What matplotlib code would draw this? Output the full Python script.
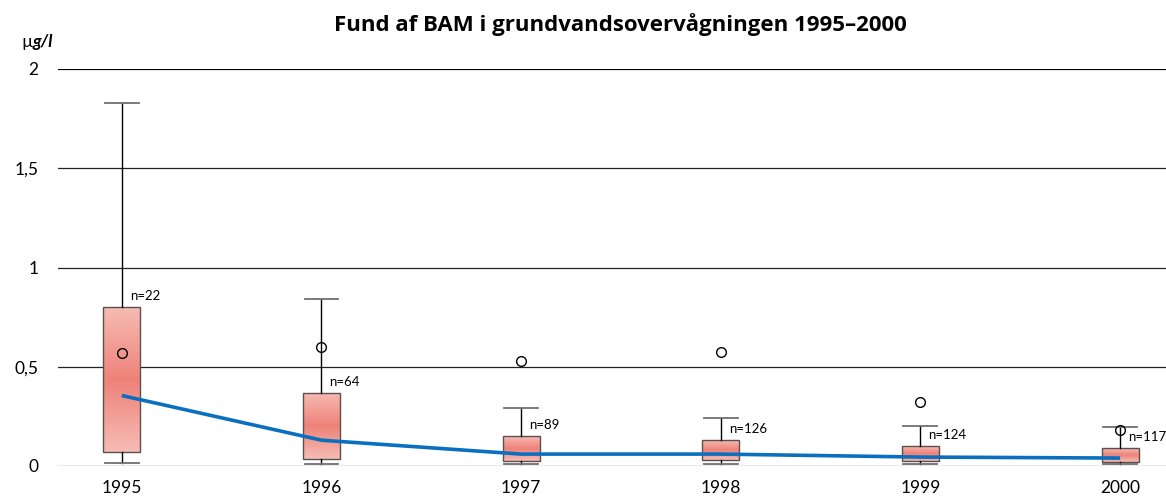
import numpy as np
import matplotlib
matplotlib.use("Agg")
import matplotlib.pyplot as plt
from matplotlib.colors import LinearSegmentedColormap

plt.rcParams['font.family'] = ['Lato', 'DejaVu Sans']

years = [1995, 1996, 1997, 1998, 1999, 2000]
n_vals = [22, 64, 89, 126, 124, 117]
whis_lo = [0.015, 0.01, 0.01, 0.01, 0.01, 0.01]
q1 = [0.07, 0.035, 0.025, 0.03, 0.025, 0.02]
q3 = [0.80, 0.37, 0.15, 0.13, 0.10, 0.09]
whis_hi = [1.83, 0.84, 0.29, 0.24, 0.20, 0.195]
means = [0.57, 0.60, 0.53, 0.575, 0.32, 0.18]
medians = [0.355, 0.13, 0.06, 0.06, 0.045, 0.04]

yticks = [0, 0.5, 1, 1.5, 2]
ytick_labels = ["0", "0,5", "1", "1,5", "2"]

fig = plt.figure(figsize=(11.66, 5), dpi=100)
ax = fig.add_axes([0.0497, 0.068, 0.9503, 0.794])

stats = []
for i in range(len(years)):
    stats.append(dict(whislo=whis_lo[i], q1=q1[i], med=medians[i], q3=q3[i],
                      whishi=whis_hi[i], mean=means[i], fliers=[]))

bp = ax.bxp(stats, positions=years, widths=0.185, patch_artist=True,
            showmeans=True, showfliers=False,
            boxprops=dict(facecolor='none', edgecolor='#5a5050', linewidth=1.0),
            whiskerprops=dict(color='black', linewidth=1.0),
            capprops=dict(color='#707070', linewidth=1.3),
            medianprops=dict(visible=False),
            meanprops=dict(marker='o', markerfacecolor='none',
                           markeredgecolor='black', markersize=7, markeredgewidth=1.0),
            capwidths=0.17, zorder=3)

# gradient fill inside boxes
cmap = LinearSegmentedColormap.from_list('pink', ['#f6bcb4', '#ee8279', '#f6bcb4'])
grad = np.linspace(0, 1, 256).reshape(-1, 1)
for i, box in enumerate(bp['boxes']):
    im = ax.imshow(grad, cmap=cmap, aspect='auto', origin='lower',
                   extent=(years[i] - 0.0925, years[i] + 0.0925, q1[i], q3[i]),
                   zorder=2.5)
    im.set_clip_path(box)

# median line
ax.plot(years, medians, color='#0b6fc0', linewidth=2.6, zorder=4,
        solid_capstyle='butt')

for i in range(len(years)):
    ax.text(years[i] + 0.04, q3[i] + 0.025, "n=%d" % n_vals[i], fontsize=9.5,
            ha='left', va='bottom', zorder=5, clip_on=False)

for y in [0.5, 1, 1.5]:
    ax.axhline(y, color='#222222', linewidth=0.9, zorder=1)
ax.axhline(2, color='black', linewidth=1.6, zorder=1)
ax.axhline(0, color='#555555', linewidth=0.9, zorder=1)

ax.set_xlim(1994.68, 2000.23)
ax.set_ylim(0, 2)
ax.set_yticks(yticks)
ax.set_yticklabels(ytick_labels, fontsize=12.5)
ax.set_xticks(years)
ax.set_xticklabels([str(y) for y in years], fontsize=12.5)
ax.tick_params(length=0, pad=14, axis='y')
ax.tick_params(length=0, pad=10, axis='x')
for s in ax.spines.values():
    s.set_visible(False)

fig.text(0.532, 0.95, "Fund af BAM i grundvandsovervågningen 1995–2000",
         ha='center', va='center', fontsize=16, fontweight='bold',
         family=['Open Sans', 'DejaVu Sans'])
fig.text(0.028, 0.917, "µ", ha='right', va='center', fontsize=12.5)
fig.text(0.028, 0.917, "g/l", ha='left', va='center', fontsize=12.5,
         fontweight='bold', style='italic')

fig.savefig("out.png", dpi=100)
